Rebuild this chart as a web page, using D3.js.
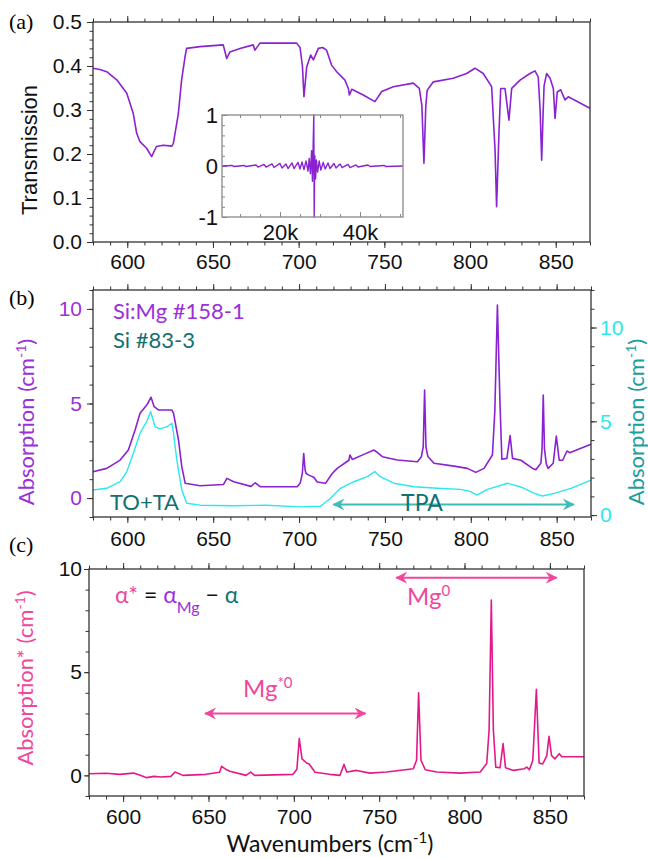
<!DOCTYPE html>
<html>
<head>
<meta charset="utf-8">
<script src="https://cdn.jsdelivr.net/npm/d3@7"></script>
<style>
body { margin: 0; background: #fff; }
</style>
</head>
<body>
<script>
// panel (a) transmission spectrum
var transWn = [580, 584, 588, 594, 599.7, 603.5, 605.5, 607.4, 611.3, 614.2, 617, 621, 626, 626.9, 629.8, 631.7, 633.7, 634.6, 642.4, 656, 658, 659.9, 665.8, 673.5, 674.5, 677.4, 698.8, 700.8, 702.2, 703.1, 704.7, 707, 708.6, 711.5, 714, 716.3, 719.2, 722.2, 727, 729, 729.6, 731, 737.7, 744.5, 748.5, 755.2, 766.9, 770.4, 771.9, 773.1, 774.2, 775, 778.6, 790.2, 798, 802.9, 807.7, 812.6, 814.6, 815.5, 816.9, 817.9, 820.4, 822.7, 824.3, 829.2, 835, 837.9, 839.8, 840.9, 841.8, 842.7, 843.2, 844.7, 846.7, 848.6, 849.6, 850.9, 852.9, 855.4, 857.3, 870];
var transVal = [0.395, 0.392, 0.387, 0.368, 0.338, 0.292, 0.247, 0.228, 0.213, 0.194, 0.217, 0.220, 0.218, 0.224, 0.292, 0.368, 0.421, 0.440, 0.444, 0.448, 0.417, 0.432, 0.440, 0.448, 0.436, 0.452, 0.452, 0.442, 0.40, 0.330, 0.398, 0.425, 0.414, 0.440, 0.442, 0.436, 0.402, 0.387, 0.368, 0.349, 0.334, 0.347, 0.334, 0.319, 0.342, 0.353, 0.361, 0.349, 0.31, 0.179, 0.31, 0.345, 0.364, 0.372, 0.383, 0.395, 0.383, 0.353, 0.209, 0.080, 0.250, 0.349, 0.349, 0.277, 0.349, 0.368, 0.383, 0.389, 0.375, 0.30, 0.186, 0.30, 0.355, 0.383, 0.372, 0.349, 0.281, 0.341, 0.346, 0.323, 0.330, 0.304];

// inset: interferogram (optical path, arb. units)
var insetK = [5500, 8000, 8500, 11000, 11500, 14000, 14500, 16000, 16500, 18000, 18500, 20000, 20500, 21500, 22000, 23000, 23500, 24500, 25000, 25500, 26000, 26500, 27000, 27300, 27600, 27900, 28100, 28300, 28450, 28550, 28700, 28900, 29100, 29400, 29800, 30200, 30800, 31300, 32000, 32500, 33500, 34000, 35000, 35500, 37000, 37500, 39000, 39500, 42000, 42500, 46000, 46500, 50750];
var insetV = [0, 0.01, -0.01, 0.01, -0.01, 0.02, -0.02, 0.03, -0.02, 0.04, -0.03, 0.05, -0.04, 0.04, -0.05, 0.06, -0.05, 0.07, -0.06, 0.08, -0.07, 0.1, -0.1, 0.15, -0.15, 0.3, -0.3, 0.45, 1.0, -1.0, 0.2, -0.25, 0.12, -0.12, 0.1, -0.08, 0.07, -0.06, 0.06, -0.05, 0.05, -0.04, 0.04, -0.03, 0.03, -0.03, 0.02, -0.02, 0.02, -0.01, 0.01, -0.01, 0];

// panel (b) Si:Mg #158-1 absorption (left axis)
var mgWn = [580, 588, 595.8, 600.6, 604.5, 607.4, 611.3, 613.8, 615.6, 618.1, 625.9, 626.9, 629.8, 631.7, 633.7, 642.4, 656, 658, 661.9, 672, 674.5, 677.4, 698.9, 700.7, 701.9, 702.7, 703.5, 704.1, 706, 708.6, 710.6, 715.4, 719.3, 722.2, 729, 729.6, 731, 737.7, 743.6, 745, 748.5, 757.2, 768.9, 771.2, 772.3, 773.1, 773.9, 775, 778.6, 790.2, 798, 802.9, 807.7, 812.6, 814, 815.5, 817, 818.1, 821, 822.9, 824.3, 829.2, 836, 837.9, 840.8, 841.5, 842.2, 842.9, 844, 845, 848, 849.8, 851.5, 853.5, 856, 857.6, 870];
var mgVal = [1.39, 1.57, 2.01, 2.54, 3.6, 4.48, 4.92, 5.33, 4.83, 4.66, 4.66, 4.48, 3.07, 1.66, 0.78, 0.65, 0.72, 1.04, 0.86, 0.62, 0.81, 0.6, 0.6, 0.8, 1.3, 2.36, 1.5, 1.3, 1.2, 1.1, 0.85, 0.78, 1.3, 1.57, 2.0, 2.28, 2.04, 2.31, 2.54, 2.45, 2.19, 2.01, 1.92, 2.19, 2.7, 5.71, 2.7, 2.2, 1.84, 1.69, 1.57, 1.36, 1.57, 2.28, 4.6, 10.2, 5.0, 2.05, 2.1, 3.3, 2.1, 2.0, 1.57, 1.5, 1.84, 2.6, 5.45, 2.6, 1.8, 1.57, 1.84, 3.28, 2.0, 2.0, 2.49, 2.4, 2.84];

// panel (b) Si #83-3 absorption (right axis)
var siWn = [580, 588, 595.8, 599.7, 603.5, 607.4, 611.3, 613.6, 616.1, 619, 622.8, 625.9, 626.9, 628.8, 631.7, 634.6, 642.4, 661.9, 681, 700.8, 712.5, 718.3, 724.1, 731.9, 739.7, 744.1, 747.2, 755.2, 766.9, 780.5, 794.1, 800, 803.5, 809.7, 821.4, 829.2, 837, 841.8, 848.6, 858.3, 870];
var siVal = [1.34, 1.43, 1.78, 2.32, 3.3, 4.37, 4.99, 5.52, 4.72, 4.6, 4.7, 4.9, 4.37, 2.94, 1.34, 0.63, 0.53, 0.5, 0.53, 0.44, 0.47, 0.9, 1.43, 1.78, 2.05, 2.32, 2.05, 1.7, 1.51, 1.43, 1.37, 1.25, 1.07, 1.37, 1.7, 1.5, 1.16, 1.02, 1.16, 1.43, 1.87];

// panel (c) difference spectrum
var diffWn = [580, 590, 598, 606, 610, 613.8, 618, 622, 628, 630.4, 635, 648.6, 656.5, 657.7, 660, 662.6, 672, 674.7, 677, 699.5, 701.8, 703.2, 704.8, 707.5, 709, 712.4, 721, 727, 729.4, 731, 736.8, 744.6, 754.3, 770, 771.9, 773.1, 774.5, 777, 783.8, 797.5, 809.2, 813, 814.4, 815.7, 816.9, 818.3, 820.8, 822.6, 824, 828.7, 835, 836.5, 838, 840, 842.1, 843.7, 845.8, 848.2, 849.5, 851, 853, 855.5, 857, 870];
var diffVal = [0.08, 0.1, 0.05, 0.11, 0.0, -0.11, -0.05, -0.08, -0.05, 0.16, 0.0, 0.05, 0.15, 0.44, 0.3, 0.2, 0.0, 0.16, 0.0, 0.05, 0.3, 1.78, 0.8, 0.6, 0.55, 0.15, 0.05, 0.0, 0.53, 0.16, 0.24, 0.11, 0.16, 0.32, 0.73, 4.0, 0.73, 0.27, 0.16, 0.11, 0.16, 0.57, 2.2, 8.5, 2.2, 0.4, 0.37, 1.54, 0.37, 0.24, 0.32, 0.4, 0.27, 0.73, 4.17, 0.6, 0.55, 0.96, 1.89, 0.96, 0.8, 1.05, 0.9, 0.9];

// tick values
var xMajor = [600, 650, 700, 750, 800, 850];
var xMinor = d3.range(580, 871, 10);
var transTicks = [0, 0.1, 0.2, 0.3, 0.4, 0.5];
var absTicks = [0, 5, 10];
var insetXTicks = [20000, 40000];
var insetYTicks = [-1, 0, 1];

var PURPLE = "#8a22d2", CYAN = "#2ae8ee", TEAL = "#127070", PINK = "#e3198a", PINKTXT = "#f0479c";
var AXISC = "#333";
var tickFont = "'Liberation Sans', Arial, sans-serif";
var calFont = "Lato, 'Noto Sans', sans-serif";

var svg = d3.select("body").append("svg")
    .attr("width", 648)
    .attr("height", 858)
    .style("background", "#fff");

var defs = svg.append("defs");
function arrowMarker(id, color){
    defs.append("marker")
        .attr("id", id)
        .attr("viewBox", "0 0 12 12")
        .attr("refX", 11).attr("refY", 6)
        .attr("markerWidth", 13).attr("markerHeight", 12)
        .attr("markerUnits", "userSpaceOnUse")
        .attr("orient", "auto-start-reverse")
        .append("path")
        .attr("d", "M0,0 L12,6 L0,12 L4,6 Z")
        .attr("fill", color);
}
arrowMarker("arrPink", "#f0479c");
arrowMarker("arrTeal", "#3dbdb5");

//adds an axis, strips the domain line and restyles ticks
function addAxis(axis, ty, tx, labelColor, size, lineColor){
    var g = svg.append("g")
        .attr("transform", "translate(" + (tx || 0) + "," + (ty || 0) + ")")
        .call(axis);
    g.select(".domain").remove();
    g.selectAll("line").attr("stroke", lineColor || AXISC);
    g.selectAll("text")
        .attr("font-family", tickFont)
        .attr("font-size", size || 21)
        .attr("fill", labelColor || "#111");
    return g;
}

function xAxes(x, top, bottom, pad){
    addAxis(d3.axisBottom(x).tickValues(xMajor).tickSize(6).tickPadding(pad).tickFormat(d3.format("d")), bottom);
    addAxis(d3.axisBottom(x).tickValues(xMinor).tickSize(3.5).tickFormat(""), bottom);
    addAxis(d3.axisTop(x).tickValues(xMajor).tickSize(6).tickFormat(""), top);
    addAxis(d3.axisTop(x).tickValues(xMinor).tickSize(3.5).tickFormat(""), top);
}

function frame(x, y, color){
    svg.append("rect")
        .attr("x", x.range()[0])
        .attr("y", y.range()[1])
        .attr("width", x.range()[1] - x.range()[0])
        .attr("height", y.range()[0] - y.range()[1])
        .attr("fill", "none")
        .attr("stroke", color || AXISC)
        .attr("stroke-width", 1.3);
}

function trace(xs, ys, x, y, color, w){
    var line = d3.line()
        .x(function(d){ return x(d[0]); })
        .y(function(d){ return y(d[1]); });
    svg.append("path")
        .datum(xs.map(function(v, i){ return [v, ys[i]]; }))
        .attr("d", line)
        .attr("fill", "none")
        .attr("stroke", color)
        .attr("stroke-width", w || 1.6)
        .attr("stroke-linejoin", "round");
}

function panelTag(txt, y){
    svg.append("text")
        .attr("x", 9).attr("y", y)
        .attr("font-family", "'Liberation Serif', 'Times New Roman', serif")
        .attr("font-size", 22)
        .text(txt);
}

function yLabel(x, y, color, main, sup, family){
    var t = svg.append("text")
        .attr("transform", "translate(" + x + "," + y + ") rotate(-90)")
        .attr("text-anchor", "middle")
        .attr("font-family", family || calFont)
        .attr("font-size", 22)
        .attr("fill", color)
        .text(main);
    if (sup){
        t.append("tspan").attr("font-size", 14).attr("baseline-shift", "super").text(sup);
        t.append("tspan").text(")");
    }
}

// ---------- panel (a) ----------
var xA = d3.scaleLinear().domain([580, 870]).range([93, 590]);
var yA = d3.scaleLinear().domain([0, 0.5]).range([242, 22]);

xAxes(xA, 22, 242, 6);
addAxis(d3.axisLeft(yA).tickValues(transTicks).tickSize(6).tickPadding(5).tickFormat(d3.format(".1f")), 0, xA.range()[0]);
addAxis(d3.axisLeft(yA).tickValues(d3.range(0, 0.501, 0.02)).tickSize(3.5).tickFormat(""), 0, xA.range()[0]);
trace(transWn, transVal, xA, yA, PURPLE);
frame(xA, yA);
panelTag("(a)", 29);
yLabel(37, 150, "#111", "Transmission", null, tickFont);

// inset
var xI = d3.scaleLinear().domain([5500, 50750]).range([222, 403]);
var yI = d3.scaleLinear().domain([-1, 1]).range([217, 115]);
svg.append("rect")
    .attr("x", 222).attr("y", 115).attr("width", 181).attr("height", 102)
    .attr("fill", "#fff");
addAxis(d3.axisBottom(xI).tickValues(insetXTicks).tickSize(-5).tickPadding(7)
    .tickFormat(function(d){ return (d / 1000) + "k"; }), yI.range()[0], 0, "#111", 22, "#888");
addAxis(d3.axisBottom(xI).tickValues(d3.range(10000, 50001, 5000)).tickSize(-3).tickFormat(""), yI.range()[0], 0, null, null, "#888");
addAxis(d3.axisTop(xI).tickValues(d3.range(10000, 50001, 5000)).tickSize(-3).tickFormat(""), yI.range()[1], 0, null, null, "#888");
addAxis(d3.axisLeft(yI).tickValues(insetYTicks).tickSize(-5).tickPadding(4)
    .tickFormat(function(d){ return String(d); }), 0, xI.range()[0], "#111", 22, "#888");
addAxis(d3.axisLeft(yI).tickValues(d3.range(-1, 1.01, 0.2)).tickSize(-3).tickFormat(""), 0, xI.range()[0], null, null, "#888");
trace(insetK, insetV, xI, yI, PURPLE, 1.4);
frame(xI, yI, "#888");

// ---------- panel (b) ----------
var xB = d3.scaleLinear().domain([580, 870]).range([93, 591]);
var yB = d3.scaleLinear().domain([-1, 11]).range([517, 290]);
var yB2 = d3.scaleLinear().domain([-0.1, 12]).range([517, 290]);

xAxes(xB, 290, 517, 8);
addAxis(d3.axisLeft(yB).tickValues(absTicks).tickSize(6).tickPadding(5), 0, xB.range()[0], "#9b30d9");
addAxis(d3.axisLeft(yB).tickValues(d3.range(-1, 11.01, 1)).tickSize(3.5).tickFormat(""), 0, xB.range()[0]);
addAxis(d3.axisRight(yB2).tickValues(absTicks).tickSize(6).tickPadding(3), 0, xB.range()[1], CYAN);
addAxis(d3.axisRight(yB2).tickValues(d3.range(0, 12.01, 1)).tickSize(3.5).tickFormat(""), 0, xB.range()[1]);
trace(siWn, siVal, xB, yB2, CYAN, 1.4);
trace(mgWn, mgVal, xB, yB, PURPLE);
frame(xB, yB);
panelTag("(b)", 305);
yLabel(34, 422, "#9b30d9", "Absorption (cm", "-1");
yLabel(644, 422, "#1a9e9e", "Absorption (cm", "-1");

svg.append("text").attr("x", 113).attr("y", 319)
    .attr("font-family", calFont).attr("font-size", 22).attr("fill", "#9b30d9")
    .text("Si:Mg #158-1");
svg.append("text").attr("x", 113).attr("y", 348)
    .attr("font-family", calFont).attr("font-size", 22).attr("fill", TEAL)
    .text("Si #83-3");
svg.append("text").attr("x", 110).attr("y", 510)
    .attr("font-family", calFont).attr("font-size", 22).attr("fill", TEAL)
    .text("TO+TA");

// TPA arrow
svg.append("line")
    .attr("x1", xB(720)).attr("x2", xB(860))
    .attr("y1", yB2(0.57)).attr("y2", yB2(0.57))
    .attr("stroke", "#3dbdb5").attr("stroke-width", 2)
    .attr("marker-start", "url(#arrTeal)").attr("marker-end", "url(#arrTeal)");
svg.append("text").attr("x", 422).attr("y", 511)
    .attr("text-anchor", "middle")
    .attr("font-family", calFont).attr("font-size", 23).attr("fill", TEAL)
    .text("TPA");

// ---------- panel (c) ----------
var xC = d3.scaleLinear().domain([580, 870]).range([89, 584]);
var yC = d3.scaleLinear().domain([-1, 10]).range([796, 569]);

xAxes(xC, 569, 796, 7);
addAxis(d3.axisLeft(yC).tickValues(absTicks).tickSize(5).tickPadding(2), 0, xC.range()[0]);
addAxis(d3.axisLeft(yC).tickValues(d3.range(-1, 10.01, 1)).tickSize(3.5).tickFormat(""), 0, xC.range()[0]);
trace(diffWn, diffVal, xC, yC, PINK);
frame(xC, yC);
panelTag("(c)", 552);
yLabel(33, 678, PINKTXT, "Absorption* (cm", "-1");

// x title
var xt = svg.append("text").attr("x", 330).attr("y", 852)
    .attr("text-anchor", "middle")
    .attr("font-family", calFont).attr("font-size", 23).attr("fill", "#111")
    .text("Wavenumbers (cm");
xt.append("tspan").attr("font-size", 15).attr("baseline-shift", "super").text("-1");
xt.append("tspan").text(")");

// equation
var eq = svg.append("text").attr("x", 115).attr("y", 603)
    .attr("font-family", calFont).attr("font-size", 23);
eq.append("tspan").attr("fill", PINKTXT).text("\u03b1*");
eq.append("tspan").attr("fill", "#111").text(" = ");
eq.append("tspan").attr("fill", "#9b30d9").text("\u03b1");
eq.append("tspan").attr("fill", "#9b30d9").attr("font-size", 16).attr("baseline-shift", "sub").text("Mg");
eq.append("tspan").attr("fill", "#111").text(" \u2212 ");
eq.append("tspan").attr("fill", TEAL).text("\u03b1");

// Mg*0 and Mg0 arrows
var arrows = [
    {from: 648, to: 742, level: 3.0, label: "Mg", sup: "*0", lx: 243, ly: 697},
    {from: 760, to: 854, level: 9.58, label: "Mg", sup: "0", lx: 407, ly: 605}
];
arrows.forEach(function(a){
    svg.append("line")
        .attr("x1", xC(a.from)).attr("x2", xC(a.to))
        .attr("y1", yC(a.level)).attr("y2", yC(a.level))
        .attr("stroke", "#f0479c").attr("stroke-width", 2)
        .attr("marker-start", "url(#arrPink)").attr("marker-end", "url(#arrPink)");
    var t = svg.append("text").attr("x", a.lx).attr("y", a.ly)
        .attr("font-family", calFont).attr("font-size", 24).attr("fill", PINKTXT)
        .text(a.label);
    t.append("tspan").attr("font-size", 15).attr("baseline-shift", "super").text(a.sup);
});
</script>
</body>
</html>
